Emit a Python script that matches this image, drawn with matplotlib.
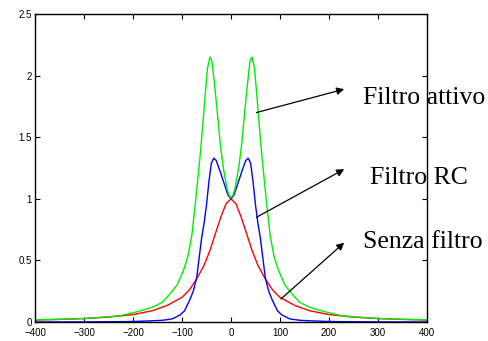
import matplotlib
matplotlib.use("Agg")
import matplotlib.pyplot as plt

# Senza filtro (rosso)
red_x = [-400, -350, -300, -250, -200, -160, -130, -100, -85, -70, -55, -43, -30, -20, -10, 0,
         10, 20, 30, 43, 55, 70, 85, 100, 130, 160, 200, 250, 300, 350, 400]
red_y = [0.016, 0.021, 0.028, 0.04, 0.06, 0.092, 0.135, 0.2, 0.26, 0.35, 0.46, 0.58, 0.74, 0.86, 0.96, 1.0,
         0.96, 0.86, 0.74, 0.58, 0.46, 0.35, 0.26, 0.2, 0.135, 0.092, 0.06, 0.04, 0.028, 0.021, 0.016]

# Filtro RC (blu)
blue_x = [-400, -300, -250, -200, -160, -140, -120, -104, -95, -84, -77, -70, -65, -60, -55, -50, -45,
          -40, -35, -30, -22, -12, -6, 0, 6, 12, 22, 30, 35, 40, 45, 50, 55, 60, 65, 70, 77, 84, 95,
          104, 120, 140, 160, 200, 250, 300, 400]
blue_y = [0.0, 0.001, 0.002, 0.004, 0.01, 0.014, 0.025, 0.057, 0.09, 0.18, 0.25, 0.36, 0.52, 0.68, 0.8,
          0.95, 1.14, 1.29, 1.33, 1.31, 1.22, 1.10, 1.03, 1.0, 1.03, 1.10, 1.22, 1.31, 1.33, 1.29, 1.14,
          0.95, 0.8, 0.68, 0.52, 0.36, 0.25, 0.18, 0.09, 0.057, 0.025, 0.014, 0.01, 0.004, 0.002, 0.001, 0.0]

# Filtro attivo (verde)
green_x = [-400, -350, -300, -227, -190, -160, -140, -124, -110, -97, -88, -80, -73, -68, -63, -58, -54,
           -48, -43, -39, -36, -29, -22, -16, -8, -4, 0, 4, 8, 16, 22, 29, 36, 39, 43, 48, 54, 58, 63, 68,
           73, 80, 88, 97, 110, 124, 140, 160, 190, 227, 300, 350, 400]
green_y = [0.018, 0.022, 0.028, 0.05, 0.085, 0.12, 0.16, 0.23, 0.30, 0.42, 0.53, 0.70, 0.95, 1.15, 1.35,
           1.58, 1.78, 2.06, 2.15, 2.12, 2.02, 1.75, 1.45, 1.26, 1.08, 1.03, 1.01, 1.03, 1.08, 1.26, 1.45,
           1.75, 2.02, 2.12, 2.15, 2.06, 1.78, 1.58, 1.35, 1.15, 0.95, 0.70, 0.53, 0.42, 0.30, 0.23, 0.16,
           0.12, 0.085, 0.05, 0.028, 0.022, 0.018]

# etichette con freccia: testo, punto sulla curva, punta freccia, posizione testo
labels = ["Filtro attivo", "Filtro RC", "Senza filtro"]
arrow_tail = [(52, 1.70), (52, 0.85), (102, 0.187)]
arrow_head = [(231, 1.89), (231, 1.24), (231, 0.644)]
text_pos = [(269, 1.77), (284, 1.12), (269, 0.598)]

fig = plt.figure(figsize=(4.88, 3.41), dpi=100)
ax = fig.add_axes([0.0717, 0.0557, 0.8033, 0.9033])

ax.plot(red_x, red_y, color="#ff0000", lw=1.0)
ax.plot(blue_x, blue_y, color="#0000ff", lw=1.0)
ax.plot(green_x, green_y, color="#00ee00", lw=1.0)

for lab, tail, head, pos in zip(labels, arrow_tail, arrow_head, text_pos):
    ax.annotate("", xy=head, xytext=tail,
                arrowprops=dict(arrowstyle="-|>", color="black", lw=0.9,
                                mutation_scale=11, shrinkA=0, shrinkB=0))
    ax.text(pos[0], pos[1], lab, family="Liberation Serif", fontsize=18.5,
            ha="left", va="baseline", clip_on=False, zorder=1)

ax.set_xlim(-400, 400)
ax.set_ylim(0, 2.5)
ax.set_xticks(range(-400, 401, 100))
ax.set_yticks([0, 0.5, 1, 1.5, 2, 2.5])
ax.set_yticklabels(["0", "0.5", "1", "1.5", "2", "2.5"])
ax.tick_params(direction="in", top=True, right=True, length=3.5, width=0.8,
               labelsize=7)
ax.tick_params(axis="x", pad=4.5)
ax.tick_params(axis="y", pad=2.5)
for lbl in ax.get_xticklabels() + ax.get_yticklabels():
    lbl.set_family("Liberation Sans")
for s in ax.spines.values():
    s.set_linewidth(1.0)

fig.savefig("out.png", dpi=100)
